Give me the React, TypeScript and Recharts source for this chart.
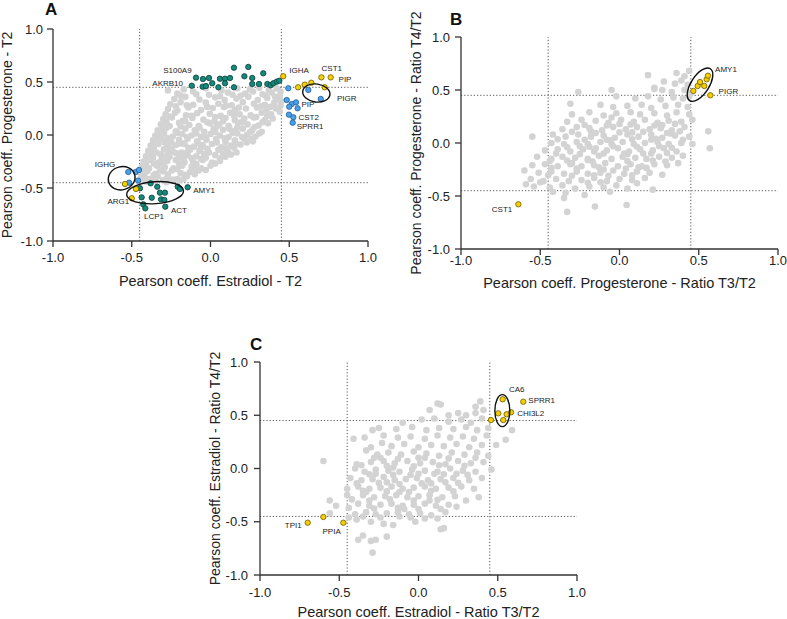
import { ScatterChart, Scatter, XAxis, YAxis, ReferenceLine, ReferenceDot } from 'recharts';

type Pt = [number, number];

const TICKS = [-1, -0.5, 0, 0.5, 1];
const CUTOFFS = [-0.45, 0.45];

// Panel A: Estradiol - T2 (x) vs Progesterone - T2 (y)
const A_GRAY: Pt[] = [
  [-0.17, 0.43], [-0.03, 0.44], [0.07, 0.42], [0.17, 0.44], [0.25, 0.43], [0.31, 0.445], [0.37, 0.42], [0.42, 0.44], [0.445, 0.41],
  [-0.21, 0.39], [-0.11, 0.41], [-0.01, 0.38], [0.11, 0.4], [0.19, 0.37], [0.27, 0.41], [0.33, 0.385], [0.39, 0.4], [0.44, 0.37],
  [-0.23, 0.34], [-0.16, 0.36], [-0.07, 0.335], [0.03, 0.355], [0.09, 0.33], [0.165, 0.345], [0.24, 0.36], [0.3, 0.33], [0.36, 0.35], [0.425, 0.335],
  [-0.255, 0.29], [-0.19, 0.31], [-0.11, 0.285], [-0.03, 0.305], [0.05, 0.295], [0.135, 0.28], [0.205, 0.31], [0.275, 0.295], [0.345, 0.285], [0.405, 0.305], [0.445, 0.275],
  [-0.27, 0.245], [-0.21, 0.23], [-0.14, 0.26], [-0.06, 0.235], [0.015, 0.255], [0.085, 0.265], [0.155, 0.235], [0.225, 0.25], [0.295, 0.26], [0.355, 0.235], [0.415, 0.25],
  [-0.285, 0.195], [-0.225, 0.21], [-0.155, 0.185], [-0.085, 0.205], [-0.005, 0.2], [0.065, 0.18], [0.125, 0.21], [0.185, 0.195], [0.255, 0.185], [0.325, 0.21], [0.385, 0.195],
  [-0.3, 0.15], [-0.245, 0.165], [-0.175, 0.135], [-0.115, 0.16], [-0.045, 0.145], [0.025, 0.13], [0.095, 0.16], [0.155, 0.14], [0.215, 0.155], [0.275, 0.165], [0.345, 0.14], [0.395, 0.155],
  [-0.315, 0.1], [-0.26, 0.085], [-0.2, 0.115], [-0.135, 0.095], [-0.075, 0.085], [-0.005, 0.11], [0.055, 0.1], [0.115, 0.085], [0.175, 0.115], [0.235, 0.1], [0.305, 0.09], [0.365, 0.11],
  [-0.335, 0.045], [-0.28, 0.065], [-0.22, 0.035], [-0.16, 0.06], [-0.1, 0.045], [-0.04, 0.03], [0.02, 0.06], [0.08, 0.05], [0.145, 0.035], [0.205, 0.06], [0.265, 0.045], [0.325, 0.03],
  [-0.35, -0.005], [-0.295, 0.015], [-0.24, -0.015], [-0.18, 0.01], [-0.12, -0.005], [-0.06, -0.02], [0.0, 0.01], [0.06, -0.005], [0.115, -0.02], [0.17, 0.015], [0.23, 0.0], [0.285, -0.015],
  [-0.365, -0.05], [-0.31, -0.035], [-0.255, -0.065], [-0.2, -0.045], [-0.145, -0.035], [-0.085, -0.06], [-0.025, -0.045], [0.035, -0.035], [0.095, -0.065], [0.155, -0.05], [0.215, -0.035], [0.27, -0.06],
  [-0.38, -0.1], [-0.33, -0.085], [-0.275, -0.115], [-0.22, -0.095], [-0.165, -0.085], [-0.105, -0.11], [-0.05, -0.095], [0.01, -0.085], [0.07, -0.115], [0.13, -0.1], [0.19, -0.09],
  [-0.395, -0.15], [-0.345, -0.165], [-0.295, -0.135], [-0.24, -0.155], [-0.185, -0.165], [-0.13, -0.14], [-0.07, -0.15], [-0.01, -0.165], [0.05, -0.14], [0.11, -0.155], [0.165, -0.165],
  [-0.41, -0.2], [-0.365, -0.215], [-0.31, -0.19], [-0.26, -0.205], [-0.2, -0.215], [-0.145, -0.19], [-0.09, -0.2], [-0.03, -0.215], [0.03, -0.19], [0.095, -0.205],
  [-0.425, -0.25], [-0.38, -0.235], [-0.33, -0.26], [-0.275, -0.245], [-0.22, -0.235], [-0.165, -0.26], [-0.11, -0.25], [-0.05, -0.235], [0.01, -0.26], [0.06, -0.245],
  [-0.435, -0.3], [-0.39, -0.315], [-0.34, -0.29], [-0.29, -0.305], [-0.235, -0.315], [-0.18, -0.29], [-0.12, -0.3], [-0.06, -0.315], [0.0, -0.29],
  [-0.445, -0.355], [-0.4, -0.34], [-0.35, -0.365], [-0.3, -0.345], [-0.245, -0.335], [-0.19, -0.36], [-0.13, -0.35], [-0.075, -0.335],
  [-0.44, -0.4], [-0.39, -0.415], [-0.335, -0.39], [-0.275, -0.405], [-0.21, -0.415], [-0.15, -0.39],
  [-0.41, -0.44], [-0.35, -0.43], [-0.28, -0.445], [-0.2, -0.43],
  [-0.32, -0.18], [-0.27, -0.13], [-0.22, -0.17], [-0.36, -0.27], [-0.31, -0.23], [-0.17, -0.08], [-0.12, -0.22], [-0.25, -0.07],
  [-0.06, -0.12], [0.02, 0.03], [0.12, 0.06], [0.2, 0.12], [0.45, 0.32], [0.44, 0.22], [-0.27, 0.42],
  [-0.19, 0.37], [-0.09, 0.385], [0.06, 0.365], [0.14, 0.38], [0.22, 0.39], [0.35, 0.37], [0.41, 0.36],
  [-0.22, 0.27], [-0.15, 0.28], [-0.02, 0.265], [0.1, 0.275], [0.18, 0.26], [0.32, 0.27], [0.38, 0.265],
  [-0.26, 0.175], [-0.12, 0.18], [0.03, 0.17], [0.15, 0.18], [0.29, 0.17], [0.36, 0.18],
  [-0.28, 0.125], [-0.16, 0.13], [-0.02, 0.12], [0.08, 0.13], [0.2, 0.125], [0.33, 0.12],
  [-0.3, 0.075], [-0.19, 0.08], [-0.07, 0.07], [0.04, 0.08], [0.17, 0.07], [0.28, 0.075],
  [-0.32, 0.025], [-0.21, 0.02], [-0.09, 0.015], [0.03, 0.03], [0.14, 0.02], [0.25, 0.025], [0.31, 0.015],
  [-0.33, -0.025], [-0.27, -0.03], [-0.15, -0.02], [-0.03, -0.025], [0.09, -0.03], [0.2, -0.02], [0.26, -0.035],
  [-0.35, -0.075], [-0.29, -0.07], [-0.19, -0.08], [-0.08, -0.075], [0.04, -0.07], [0.16, -0.08], [0.23, -0.07],
  [-0.36, -0.125], [-0.25, -0.13], [-0.14, -0.12], [-0.02, -0.13], [0.1, -0.125], [0.15, -0.12],
  [-0.38, -0.175], [-0.27, -0.18], [-0.16, -0.17], [-0.04, -0.18], [0.08, -0.175], [0.13, -0.185],
  [-0.39, -0.225], [-0.29, -0.23], [-0.17, -0.22], [-0.06, -0.225], [0.06, -0.22],
  [-0.41, -0.275], [-0.3, -0.28], [-0.2, -0.27], [-0.09, -0.275], [0.03, -0.27],
  [-0.42, -0.325], [-0.32, -0.33], [-0.21, -0.32], [-0.1, -0.325], [-0.03, -0.33],
  [-0.42, -0.375], [-0.36, -0.38], [-0.27, -0.37], [-0.16, -0.375], [-0.1, -0.37],
  [-0.43, -0.42], [-0.36, -0.41], [-0.3, -0.425], [-0.24, -0.42], [-0.17, -0.415],
];
const A_TEAL: Pt[] = [
  [-0.119, 0.465], [-0.092, 0.541], [-0.05, 0.456], [-0.029, 0.462], [-0.048, 0.528], [-0.01, 0.538], [0.011, 0.488], [0.05, 0.45],
  [0.06, 0.531], [0.092, 0.531], [0.124, 0.538], [0.092, 0.488], [0.149, 0.45], [0.149, 0.635], [0.24, 0.642], [0.215, 0.554],
  [0.265, 0.538], [0.265, 0.481], [0.308, 0.481], [0.335, 0.582], [0.361, 0.481], [0.382, 0.469], [0.399, 0.488], [0.42, 0.503], [0.437, 0.512],
  [-0.448, -0.503], [-0.38, -0.456], [-0.338, -0.488], [-0.321, -0.544], [-0.289, -0.544], [-0.208, -0.488], [-0.194, -0.509], [-0.145, -0.493],
  [-0.437, -0.588], [-0.373, -0.592], [-0.314, -0.607], [-0.293, -0.613], [-0.427, -0.654], [-0.414, -0.692], [-0.287, -0.676],
];
const A_YELLOW: Pt[] = [
  [0.462, 0.554], [0.556, 0.45], [0.598, 0.475], [0.64, 0.493], [0.704, 0.544], [0.763, 0.544], [0.725, 0.45],
  [-0.543, -0.462], [-0.473, -0.509], [-0.5, -0.597],
];
const A_BLUE: Pt[] = [
  [0.494, 0.441], [0.621, 0.425], [0.7, 0.34], [0.484, 0.33], [0.516, 0.292], [0.543, 0.308], [0.5, 0.267], [0.553, 0.252],
  [0.498, 0.192], [0.526, 0.167], [0.522, 0.116],
  [-0.522, -0.349], [-0.475, -0.349], [-0.454, -0.33], [-0.517, -0.45], [-0.46, -0.43],
];
const A_LABELS = [
  { x: -0.21, y: 0.607, text: 'S100A9' }, { x: -0.272, y: 0.488, text: 'AKRB10' }, { x: 0.562, y: 0.604, text: 'IGHA' },
  { x: 0.77, y: 0.623, text: 'CST1' }, { x: 0.854, y: 0.528, text: 'PIP' }, { x: 0.865, y: 0.34, text: 'PIGR' },
  { x: 0.619, y: 0.29, text: 'PIP' }, { x: 0.623, y: 0.163, text: 'CST2' }, { x: 0.632, y: 0.078, text: 'SPRR1' },
  { x: -0.67, y: -0.28, text: 'IGHG' }, { x: -0.585, y: -0.625, text: 'ARG1' }, { x: -0.359, y: -0.771, text: 'LCP1' },
  { x: -0.2, y: -0.708, text: 'ACT' }, { x: -0.041, y: -0.519, text: 'AMY1' },
];

// Panel B: Progesterone - Ratio T3/T2 (x) vs Ratio T4/T2 (y)
const B_GRAY: Pt[] = [
  [0.18, 0.64], [0.36, 0.66], [0.44, 0.68], [0.41, 0.63],
  [0.28, 0.58], [0.35, 0.56], [0.39, 0.59], [0.43, 0.55], [0.22, 0.52],
  [-0.26, 0.48], [-0.05, 0.5], [0.22, 0.51], [0.27, 0.5], [0.33, 0.48], [0.41, 0.5], [0.45, 0.47],
  [-0.02, 0.44], [0.1, 0.42], [0.18, 0.44], [0.26, 0.41], [0.34, 0.43], [0.4, 0.42], [0.44, 0.44],
  [-0.31, 0.37], [-0.12, 0.36], [-0.04, 0.34], [0.05, 0.35], [0.14, 0.36], [0.2, 0.33], [0.29, 0.35], [0.37, 0.36], [0.43, 0.34],
  [-0.3, 0.27], [-0.19, 0.29], [-0.1, 0.26], [-0.02, 0.28], [0.07, 0.29], [0.13, 0.27], [0.22, 0.28], [0.3, 0.26], [0.36, 0.29], [0.44, 0.27],
  [-0.33, 0.2], [-0.24, 0.22], [-0.15, 0.21], [-0.07, 0.19], [0.01, 0.22], [0.09, 0.2], [0.16, 0.22], [0.24, 0.19], [0.31, 0.21], [0.39, 0.2], [0.46, 0.22],
  [-0.36, 0.13], [-0.27, 0.15], [-0.19, 0.14], [-0.11, 0.12], [-0.04, 0.15], [0.04, 0.13], [0.11, 0.15], [0.19, 0.13], [0.26, 0.14], [0.33, 0.12], [0.41, 0.15], [0.56, 0.11],
  [-0.55, 0.06], [-0.42, 0.08], [-0.34, 0.06], [-0.26, 0.08], [-0.18, 0.06], [-0.1, 0.07], [-0.03, 0.05], [0.05, 0.08], [0.12, 0.06], [0.2, 0.08], [0.27, 0.05], [0.35, 0.07], [0.44, 0.06],
  [-0.43, 0.0], [-0.35, -0.01], [-0.27, 0.01], [-0.2, -0.01], [-0.12, 0.01], [-0.05, -0.01], [0.02, 0.01], [0.09, -0.01], [0.16, 0.0], [0.24, 0.01], [0.31, -0.01], [0.39, 0.0], [0.46, -0.01],
  [-0.47, -0.07], [-0.39, -0.06], [-0.31, -0.08], [-0.23, -0.06], [-0.16, -0.08], [-0.08, -0.07], [-0.01, -0.05], [0.06, -0.08], [0.13, -0.06], [0.21, -0.07], [0.28, -0.05], [0.36, -0.08], [0.57, -0.05],
  [-0.52, -0.13], [-0.43, -0.15], [-0.36, -0.13], [-0.28, -0.14], [-0.2, -0.15], [-0.13, -0.12], [-0.05, -0.15], [0.02, -0.13], [0.1, -0.14], [0.17, -0.15], [0.25, -0.13], [0.33, -0.14], [0.4, -0.12],
  [-0.55, -0.21], [-0.47, -0.2], [-0.39, -0.22], [-0.31, -0.2], [-0.24, -0.22], [-0.16, -0.21], [-0.09, -0.19], [-0.01, -0.22], [0.07, -0.2], [0.14, -0.22], [0.22, -0.2], [0.3, -0.21], [0.37, -0.19],
  [-0.6, -0.26], [-0.51, -0.28], [-0.43, -0.27], [-0.35, -0.29], [-0.27, -0.27], [-0.2, -0.29], [-0.12, -0.28], [-0.04, -0.26], [0.03, -0.29], [0.11, -0.27], [0.19, -0.28], [0.27, -0.3],
  [-0.56, -0.34], [-0.48, -0.36], [-0.4, -0.34], [-0.32, -0.36], [-0.24, -0.35], [-0.16, -0.33], [-0.08, -0.36], [0.0, -0.34], [0.08, -0.35], [0.16, -0.33],
  [-0.59, -0.39], [-0.54, -0.41], [-0.44, -0.42], [-0.36, -0.4], [-0.28, -0.43], [-0.19, -0.41], [-0.1, -0.42], [-0.02, -0.4], [0.05, -0.43], [0.21, -0.44],
  [-0.35, -0.52], [-0.22, -0.49], [-0.06, -0.46], [-0.42, -0.46],
  [-0.33, -0.65], [-0.155, -0.6], [0.045, -0.585], [-0.34, -0.47],
  [-0.15, -0.05], [-0.08, 0.03], [0.03, -0.1], [0.08, 0.1], [-0.2, -0.16], [0.15, -0.1], [-0.25, -0.03], [0.2, 0.03],
  [-0.1, -0.25], [0.0, 0.18], [0.12, -0.23], [-0.3, -0.19], [0.27, 0.17], [-0.05, 0.24], [0.32, 0.09], [-0.18, 0.11],
  [-0.22, 0.17], [-0.08, 0.165], [0.07, 0.175], [0.22, 0.165], [0.35, 0.18],
  [-0.3, 0.105], [-0.15, 0.095], [0.0, 0.1], [0.15, 0.105], [0.3, 0.095], [0.38, 0.11],
  [-0.39, 0.035], [-0.22, 0.03], [-0.06, 0.025], [0.08, 0.035], [0.23, 0.04], [0.4, 0.03],
  [-0.33, -0.04], [-0.19, -0.035], [-0.04, -0.03], [0.11, -0.035], [0.25, -0.03], [0.33, -0.045],
  [-0.4, -0.1], [-0.25, -0.105], [-0.1, -0.1], [0.05, -0.105], [0.2, -0.1], [0.3, -0.095],
  [-0.44, -0.17], [-0.33, -0.165], [-0.17, -0.175], [0.05, -0.17], [0.21, -0.165], [0.29, -0.175],
  [-0.43, -0.235], [-0.27, -0.24], [-0.13, -0.23], [0.04, -0.24], [0.17, -0.235],
  [-0.45, -0.305], [-0.3, -0.31], [-0.16, -0.305], [-0.07, -0.31], [0.08, -0.305],
  [-0.5, -0.37], [-0.2, -0.375], [-0.12, -0.37], [0.11, -0.38],
];
const B_YELLOW: Pt[] = [
  [0.466, 0.491], [0.493, 0.538], [0.508, 0.575], [0.535, 0.538], [0.55, 0.601], [0.558, 0.635], [0.573, 0.45], [-0.638, -0.578],
];
const B_LABELS = [
  { x: 0.672, y: 0.695, text: 'AMY1' }, { x: 0.687, y: 0.484, text: 'PIGR' }, { x: -0.741, y: -0.632, text: 'CST1' },
];

// Panel C: Estradiol - Ratio T3/T2 (x) vs Ratio T4/T2 (y)
const C_GRAY: Pt[] = [
  [0.12, 0.61], [0.14, 0.6], [0.39, 0.63], [0.36, 0.58],
  [0.07, 0.55], [0.25, 0.52], [0.36, 0.52], [0.41, 0.55], [0.3, 0.5], [0.19, 0.5],
  [0.02, 0.46], [0.1, 0.47], [0.19, 0.44], [0.27, 0.46], [0.33, 0.43], [0.4, 0.47], [-0.1, 0.43],
  [-0.29, 0.36], [-0.25, 0.38], [-0.14, 0.37], [-0.04, 0.39], [0.05, 0.36], [0.13, 0.38], [0.22, 0.37], [0.3, 0.39], [0.37, 0.36], [0.44, 0.38],
  [-0.34, 0.29], [-0.41, 0.28], [-0.22, 0.31], [-0.13, 0.29], [-0.05, 0.3], [0.04, 0.28], [0.12, 0.31], [0.2, 0.29], [0.28, 0.3], [0.35, 0.28], [0.43, 0.31], [0.55, 0.27], [0.59, 0.36],
  [-0.23, 0.24], [-0.3, 0.2], [-0.17, 0.21], [-0.09, 0.23], [0.0, 0.2], [0.08, 0.22], [0.16, 0.21], [0.24, 0.23], [0.32, 0.2], [0.4, 0.22], [0.49, 0.22],
  [-0.33, 0.17], [-0.26, 0.13], [-0.19, 0.15], [-0.11, 0.13], [-0.03, 0.16], [0.05, 0.14], [0.13, 0.12], [0.21, 0.15], [0.29, 0.13], [0.37, 0.15], [0.44, 0.12],
  [-0.6, 0.07], [-0.39, 0.04], [-0.3, 0.06], [-0.22, 0.07], [-0.15, 0.05], [-0.07, 0.07], [0.01, 0.05], [0.09, 0.06], [0.17, 0.04], [0.25, 0.07], [0.33, 0.05], [0.41, 0.06],
  [-0.4, 0.0], [-0.34, -0.03], [-0.27, -0.01], [-0.19, -0.02], [-0.12, -0.03], [-0.04, -0.01], [0.04, -0.02], [0.12, -0.03], [0.2, 0.0], [0.28, -0.02], [0.36, -0.03], [0.46, -0.01],
  [-0.43, -0.09], [-0.36, -0.11], [-0.29, -0.1], [-0.22, -0.08], [-0.15, -0.11], [-0.08, -0.1], [-0.01, -0.09], [0.06, -0.11], [0.14, -0.1], [0.22, -0.09], [0.32, -0.11], [0.4, -0.09],
  [-0.45, -0.19], [-0.38, -0.17], [-0.31, -0.19], [-0.24, -0.18], [-0.17, -0.17], [-0.1, -0.19], [-0.03, -0.18], [0.04, -0.17], [0.11, -0.19], [0.19, -0.18], [0.27, -0.17], [0.35, -0.19],
  [-0.42, -0.29], [-0.56, -0.3], [-0.35, -0.25], [-0.28, -0.27], [-0.21, -0.26], [-0.14, -0.25], [-0.07, -0.27], [0.0, -0.26], [0.07, -0.25], [0.15, -0.27], [0.23, -0.26], [0.38, -0.27],
  [-0.52, -0.35], [-0.38, -0.33], [-0.31, -0.35], [-0.24, -0.34], [-0.17, -0.33], [-0.1, -0.35], [-0.03, -0.34], [0.04, -0.33], [0.11, -0.35], [0.19, -0.34], [0.24, -0.36],
  [-0.56, -0.42], [-0.4, -0.43], [-0.33, -0.41], [-0.27, -0.43], [-0.2, -0.42], [-0.13, -0.41], [-0.06, -0.43], [0.01, -0.42], [0.08, -0.44], [0.17, -0.41],
  [-0.39, -0.48], [-0.3, -0.5], [-0.22, -0.52], [-0.16, -0.53], [-0.02, -0.5], [0.12, -0.47], [-0.12, -0.45], [-0.44, -0.46],
  [-0.35, -0.63], [-0.38, -0.67], [-0.3, -0.68], [-0.27, -0.67], [-0.2, -0.64], [-0.29, -0.79], [0.16, -0.56], [0.14, -0.57],
  [-0.2, -0.13], [-0.12, -0.22], [-0.05, -0.06], [0.02, -0.14], [-0.27, -0.05], [0.1, -0.05], [-0.16, 0.01],
  [0.07, -0.3], [-0.09, -0.38], [0.17, -0.13], [-0.33, -0.22], [0.0, 0.1], [0.24, -0.05], [-0.24, 0.1],
  [-0.28, 0.1], [-0.13, 0.09], [0.04, 0.1], [0.19, 0.095], [0.36, 0.1],
  [-0.36, 0.03], [-0.2, 0.025], [-0.03, 0.02], [0.13, 0.03], [0.29, 0.025],
  [-0.31, -0.055], [-0.16, -0.06], [0.0, -0.05], [0.16, -0.055], [0.31, -0.06],
  [-0.39, -0.14], [-0.25, -0.135], [-0.12, -0.145], [0.08, -0.14], [0.25, -0.135],
  [-0.35, -0.21], [-0.2, -0.215], [-0.06, -0.22], [0.08, -0.21], [0.22, -0.215],
  [-0.45, -0.25], [-0.31, -0.3], [-0.18, -0.29], [-0.03, -0.3], [0.12, -0.295], [0.3, -0.3],
  [-0.44, -0.37], [-0.28, -0.375], [-0.13, -0.37], [0.0, -0.38], [0.14, -0.38],
  [-0.35, -0.45], [-0.24, -0.46], [-0.05, -0.46], [0.04, -0.47],
];
const C_YELLOW: Pt[] = [
  [0.457, 0.455], [0.503, 0.518], [0.531, 0.65], [0.535, 0.455], [0.556, 0.509], [0.584, 0.528], [0.661, 0.627],
  [-0.699, -0.509], [-0.6, -0.455], [-0.474, -0.509],
];
const C_LABELS = [
  { x: 0.62, y: 0.746, text: 'CA6' }, { x: 0.777, y: 0.643, text: 'SPRR1' }, { x: 0.708, y: 0.518, text: 'CHI3L2' },
  { x: -0.79, y: -0.534, text: 'TPI1' }, { x: -0.548, y: -0.587, text: 'PPIA' },
];

// circled groups: centre in data units, radii in px
const A_RINGS = [
  { x: -0.564, y: -0.408, rx: 13.5, ry: 11.5, angle: -15 },
  { x: -0.352, y: -0.544, rx: 28.5, ry: 11, angle: -4 },
  { x: 0.672, y: 0.396, rx: 13.7, ry: 9, angle: 8 },
];
const B_RINGS = [{ x: 0.508, y: 0.55, rx: 19, ry: 9, angle: -57 }];
const C_RINGS = [{ x: 0.529, y: 0.543, rx: 7.5, ry: 16, angle: 0 }];

const FONT = '"Liberation Sans", Arial, Helvetica, sans-serif';
const GRAY = '#d3d3d3';
const TEAL = { fill: '#148a7c', stroke: '#0c3d37' };
const YELLOW = { fill: '#f4d000', stroke: '#6f5a00' };
const BLUE = { fill: '#4a9fe6', stroke: '#23609a' };
const AXIS = '#333';

const toXY = (arr: Pt[]) => arr.map(([x, y]) => ({ x, y }));

const grayDot = (p: any) => <circle cx={p.cx} cy={p.cy} r={3.3} fill={GRAY} />;
const colorDot = (c: { fill: string; stroke: string }) => (p: any) => (
  <circle cx={p.cx} cy={p.cy} r={2.7} fill={c.fill} stroke={c.stroke} strokeWidth={0.8} />
);
const labelText = (p: any) => (
  <text x={p.cx} y={p.cy} textAnchor="middle" dominantBaseline="central" fontSize={8} fontFamily={FONT} fill="#222">
    {p.payload?.text ?? p.text}
  </text>
);

type PanelProps = {
  left: number; top: number; width: number; height: number;
  margin: { top: number; right: number; bottom: number; left: number };
  yWidth: number; xHeight: number;
  xTickMargin: number; yTickMargin: number;
  xTitle: string; yTitle: string; xTitleOffset: number; yTitleOffset: number;
  gray: Pt[];
  groups: { pts: Pt[]; color: { fill: string; stroke: string } }[];
  labels: { x: number; y: number; text: string }[];
  rings: { x: number; y: number; rx: number; ry: number; angle: number }[];
};

function Panel(props: PanelProps) {
  const tick = { fontSize: 13, fill: '#222', fontFamily: FONT };
  return (
    <div style={{ position: 'absolute', left: props.left, top: props.top }}>
      <ScatterChart width={props.width} height={props.height} margin={props.margin}>
        <XAxis
          type="number" dataKey="x" domain={[-1, 1]} ticks={TICKS} allowDataOverflow
          tickFormatter={(v: number) => v.toFixed(1)}
          height={props.xHeight} tickSize={6} tickMargin={props.xTickMargin}
          stroke={AXIS} strokeWidth={1.3} tick={tick}
          label={{ value: props.xTitle, position: 'insideBottom', offset: props.xTitleOffset, fontSize: 14.5, fill: '#222', fontFamily: FONT }}
        />
        <YAxis
          type="number" dataKey="y" domain={[-1, 1]} ticks={TICKS} allowDataOverflow
          tickFormatter={(v: number) => v.toFixed(1)}
          width={props.yWidth} tickSize={6} tickMargin={props.yTickMargin}
          stroke={AXIS} strokeWidth={1.3} tick={tick}
          label={{ value: props.yTitle, angle: -90, position: 'insideLeft', offset: props.yTitleOffset, fontSize: 14, fill: '#222', fontFamily: FONT, style: { textAnchor: 'middle' } }}
        />
        {CUTOFFS.map((c) => (
          <ReferenceLine key={'x' + c} x={c} stroke="#555" strokeDasharray="1.2 2" />
        ))}
        {CUTOFFS.map((c) => (
          <ReferenceLine key={'y' + c} y={c} stroke="#555" strokeDasharray="1.2 2" />
        ))}
        <Scatter data={toXY(props.gray)} shape={grayDot} isAnimationActive={false} />
        {props.groups.map((g, i) => (
          <Scatter key={i} data={toXY(g.pts)} shape={colorDot(g.color)} isAnimationActive={false} />
        ))}
        {props.rings.map((e, i) => (
          <ReferenceDot
            key={'e' + i} x={e.x} y={e.y} r={1}
            shape={(p: any) => (
              <ellipse cx={p.cx} cy={p.cy} rx={e.rx} ry={e.ry} transform={`rotate(${e.angle} ${p.cx} ${p.cy})`}
                fill="none" stroke="#111" strokeWidth={1.4} />
            )}
          />
        ))}
        <Scatter data={props.labels} shape={labelText} isAnimationActive={false} />
      </ScatterChart>
    </div>
  );
}

export default function App() {
  return (
    <div style={{ position: 'absolute', left: 0, top: 0, width: 787, height: 619, background: '#fff', fontFamily: FONT }}>
      <Panel
        left={0} top={0} width={380} height={291}
        margin={{ top: 29, right: 12, bottom: 0, left: 0 }}
        yWidth={53} xHeight={50} xTickMargin={6} yTickMargin={4}
        xTitle="Pearson coeff. Estradiol - T2" yTitle="Pearson coeff. Progesterone - T2"
        xTitleOffset={5} yTitleOffset={7.5}
        gray={A_GRAY}
        groups={[{ pts: A_TEAL, color: TEAL }, { pts: A_BLUE, color: BLUE }, { pts: A_YELLOW, color: YELLOW }]}
        labels={A_LABELS} rings={A_RINGS}
      />
      <Panel
        left={400} top={0} width={387} height={294}
        margin={{ top: 37, right: 9, bottom: 0, left: 0 }}
        yWidth={61} xHeight={45} xTickMargin={1} yTickMargin={5}
        xTitle="Pearson coeff. Progesterone - Ratio T3/T2" yTitle="Pearson coeff. Progesterone - Ratio T4/T2"
        xTitleOffset={6} yTitleOffset={16.5}
        gray={B_GRAY}
        groups={[{ pts: B_YELLOW, color: YELLOW }]}
        labels={B_LABELS} rings={B_RINGS}
      />
      <Panel
        left={180} top={300} width={420} height={319}
        margin={{ top: 62, right: 23, bottom: 0, left: 0 }}
        yWidth={80} xHeight={44} xTickMargin={7} yTickMargin={6}
        xTitle="Pearson coeff. Estradiol - Ratio T3/T2" yTitle="Pearson coeff. Estradiol - Ratio T4/T2"
        xTitleOffset={2} yTitleOffset={35}
        gray={C_GRAY}
        groups={[{ pts: C_YELLOW, color: YELLOW }]}
        labels={C_LABELS} rings={C_RINGS}
      />
      <svg width={787} height={619} style={{ position: 'absolute', left: 0, top: 0, pointerEvents: 'none' }}>
        <text x={45} y={15} fontSize={17} fontWeight="bold" fontFamily={FONT} fill="#111">A</text>
        <text x={450} y={25} fontSize={17} fontWeight="bold" fontFamily={FONT} fill="#111">B</text>
        <text x={250} y={350} fontSize={17} fontWeight="bold" fontFamily={FONT} fill="#111">C</text>
      </svg>
    </div>
  );
}
